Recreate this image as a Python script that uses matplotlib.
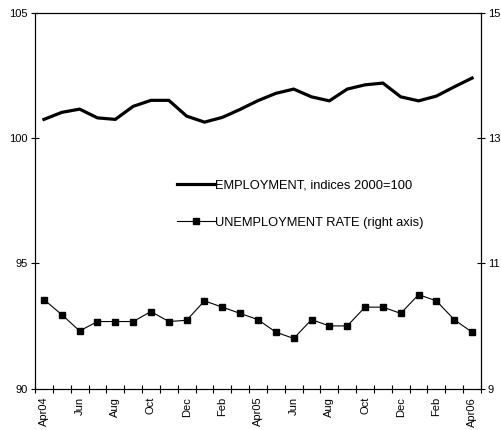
import numpy as np
import matplotlib
matplotlib.use('Agg')
import matplotlib.pyplot as plt
from matplotlib.ticker import FixedLocator

plt.rcParams['font.family'] = ['Liberation Sans', 'DejaVu Sans']

# Monthly series, Apr 2004 - Apr 2006
months = ['Apr04', 'May', 'Jun', 'Jul', 'Aug', 'Sep', 'Oct', 'Nov', 'Dec',
          'Jan05', 'Feb', 'Mar', 'Apr05', 'May', 'Jun', 'Jul', 'Aug', 'Sep',
          'Oct', 'Nov', 'Dec', 'Jan06', 'Feb', 'Mar', 'Apr06']
employment = [100.75, 101.03, 101.16, 100.81, 100.75, 101.27, 101.51, 101.51,
              100.88, 100.64, 100.83, 101.15, 101.50, 101.79, 101.96, 101.65,
              101.49, 101.96, 102.13, 102.20, 101.65, 101.49, 101.68, 102.05,
              102.40]
unemployment = [10.42, 10.18, 9.92, 10.07, 10.07, 10.07, 10.23, 10.07, 10.09,
                10.40, 10.30, 10.20, 10.10, 9.90, 9.80, 10.10, 10.00, 10.00,
                10.30, 10.30, 10.20, 10.50, 10.40, 10.10, 9.90]
tick_labels = ['Apr04', 'Jun', 'Aug', 'Oct', 'Dec', 'Feb', 'Apr05', 'Jun',
               'Aug', 'Oct', 'Dec', 'Feb', 'Apr06']

x = np.arange(len(months))

fig = plt.figure(figsize=(5.01, 4.30), dpi=100)
ax = fig.add_axes([0.0699, 0.0965, 0.8902, 0.8733])
ax2 = ax.twinx()

l1, = ax.plot(x, employment, color='black', lw=2.3, solid_joinstyle='miter',
              label='EMPLOYMENT, indices 2000=100')
l2, = ax2.plot(x, unemployment, color='black', lw=0.8, marker='s', ms=4.2,
               label='UNEMPLOYMENT RATE (right axis)')

ax.set_xlim(-0.5, len(months) - 0.5)
ax.set_ylim(90, 105)
ax2.set_ylim(9, 15)
ax.set_yticks([90, 95, 100, 105])
ax2.set_yticks([9, 11, 13, 15])

# labels sit on every second month, tick marks fall between months
ax.set_xticks(x[::2])
ax.set_xticklabels(tick_labels, rotation=90, fontsize=8)
ax.xaxis.set_minor_locator(FixedLocator(np.arange(-0.5, len(months), 1.0)))
ax.tick_params(axis='x', which='major', length=0, pad=6)
ax.tick_params(axis='x', which='minor', direction='inout', length=6, width=0.8)
ax.tick_params(axis='y', direction='inout', length=6, width=0.8, labelsize=8, pad=2)
ax2.tick_params(axis='y', direction='inout', length=6, width=0.8, labelsize=8, pad=2)

for a in (ax, ax2):
    for s in a.spines.values():
        s.set_linewidth(0.8)
        s.set_color('black')

leg = ax2.legend([l1, l2], [l1.get_label(), l2.get_label()],
                 loc='center left', bbox_to_anchor=(0.353, 0.5256),
                 bbox_transform=fig.transFigure, frameon=False, fontsize=9.3,
                 handlelength=2.95, handletextpad=0.0, borderpad=0,
                 borderaxespad=0, labelspacing=2.0)

fig.savefig('out.png', dpi=100)
